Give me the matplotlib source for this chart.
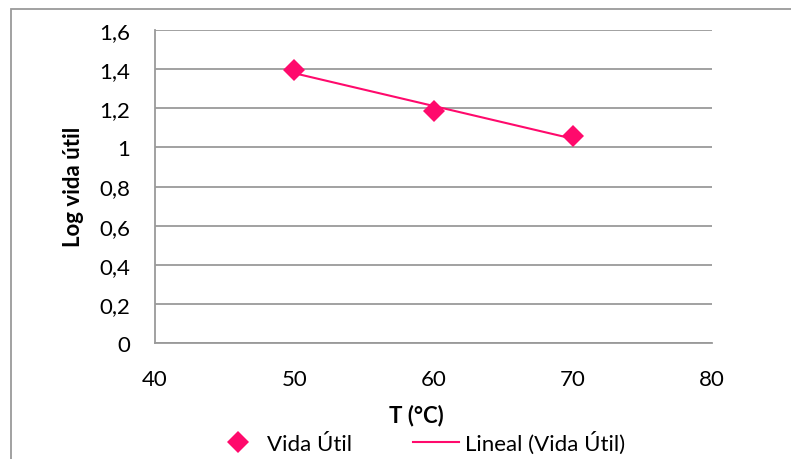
#!/usr/bin/env python3

import numpy as np
import matplotlib
matplotlib.use("Agg")
import matplotlib.pyplot as plt
from matplotlib.lines import Line2D
from matplotlib.patches import Rectangle
from matplotlib.ticker import FuncFormatter

plt.rcParams["font.family"] = ["Lato", "DejaVu Sans"]

temperatura = [50, 60, 70]
log_vida = [1.393, 1.184, 1.058]
x_ticks = [40, 50, 60, 70, 80]
y_ticks = [0, 0.2, 0.4, 0.6, 0.8, 1.0, 1.2, 1.4, 1.6]

color = "#FF0A6C"
gris = "#9A9A9A"
fs = 16

fig = plt.figure(figsize=(7.91, 4.60), dpi=100)
ax = fig.add_axes([155 / 791, 1 - 344 / 460, 557 / 791, 313 / 460])

# marco exterior del gráfico
fig.patches.append(Rectangle((11 / 791, -0.1), 1.2, 1 - 10 / 460 + 0.1,
                             transform=fig.transFigure, fill=False,
                             edgecolor=gris, lw=1.3))

ax.set_xlim(40, 80)
ax.set_ylim(0, 1.6)
ax.set_xticks(x_ticks)
ax.set_yticks(y_ticks)
ax.yaxis.set_major_formatter(FuncFormatter(lambda v, p: f"{v:g}".replace(".", ",")))
ax.tick_params(length=0, labelsize=fs)
ax.tick_params(axis="y", pad=18)
ax.tick_params(axis="x", pad=19)

ax.grid(axis="y", color=gris, lw=1.3)
ax.set_axisbelow(True)
for s in ["top", "right"]:
    ax.spines[s].set_visible(False)
for s in ["left", "bottom"]:
    ax.spines[s].set_color(gris)
    ax.spines[s].set_linewidth(1.3)

# recta de ajuste lineal
t = np.array(temperatura, dtype=float)
m, b = np.polyfit(t, log_vida, 1)
ax.plot(t, m * t + b, color=color, lw=1.5, zorder=3)
ax.plot(temperatura, log_vida, "D", color=color, ms=11, mew=0, zorder=4)

ax.set_xlabel("T (°C)", fontsize=fs, fontweight="bold")
ax.xaxis.set_label_coords((416 - 155) / 557, (344 - 416) / 313)
ax.xaxis.label.set_va("center")
ax.set_ylabel("Log vida útil", fontsize=fs, fontweight="bold")
ax.yaxis.set_label_coords((74 - 155) / 557, (344 - 187) / 313)
ax.yaxis.label.set_va("center")

handles = [Line2D([], [], ls="none", marker="D", color=color, ms=11, mew=0),
           Line2D([], [], color=color, lw=1.5)]
fig.legend(handles, ["Vida Útil", "Lineal (Vida Útil)"], loc="center",
           bbox_to_anchor=(420 / 791, 1 - 443 / 460), ncol=2, frameon=False,
           fontsize=fs, handlelength=2.07, handletextpad=0.27,
           columnspacing=2.74, borderpad=0, borderaxespad=0)

fig.savefig("out.png", dpi=100)
